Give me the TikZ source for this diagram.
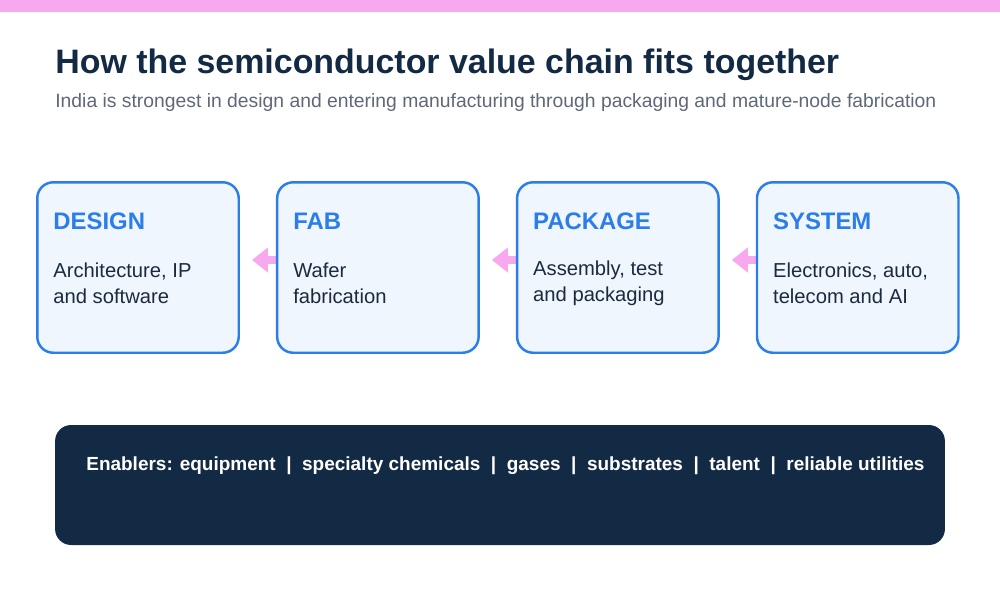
\documentclass[tikz,border=0pt]{standalone}
\usepackage{fontspec}
\setmainfont{Liberation Sans}
\usetikzlibrary{positioning, calc, backgrounds, arrows.meta}

\definecolor{navy}{HTML}{132A44}
\definecolor{subgray}{HTML}{5E6876}
\definecolor{stageblue}{HTML}{2B7DE9}
\definecolor{stagefill}{HTML}{EFF6FD}
\definecolor{bodyink}{HTML}{1B2A3E}
\definecolor{barpink}{HTML}{F8A8EE}

\begin{document}
\begin{tikzpicture}[
    x=0.02cm, y=-0.02cm,
    node distance=0.72cm,
    stage/.style={rectangle, draw=stageblue, line width=1.4pt, fill=stagefill,
        rounded corners=0.32cm, minimum width=4.03cm, minimum height=3.41cm, inner sep=0pt},
    stagehead/.style={anchor=west, inner sep=0pt, text=stageblue,
        font=\fontsize{13.6}{16}\selectfont\bfseries},
    stagebody/.style={anchor=west, inner sep=0pt, align=left, text=bodyink,
        font=\fontsize{11.5}{14.8}\selectfont},
    flow/.style={-{Triangle[length=0.32cm, width=0.48cm]}, line width=0.16cm,
        draw=barpink, shorten >=0.24cm}
]
\useasboundingbox (0,0) rectangle (1000,610);
\fill[barpink] (0,0) rectangle (1000,12);

\node[anchor=west, inner sep=0pt, text=navy, font=\fontsize{19.3}{23}\selectfont\bfseries]
    (title) at (55,65) {How the semiconductor value chain fits together};
\node[anchor=west, inner sep=0pt, text=subgray, font=\fontsize{11}{13}\selectfont]
    (subtitle) at (55,102) {India is strongest in design and entering manufacturing through packaging and mature-node fabrication};

% stages
\node[stage] (design) at (138,267.5) {};
\node[stage, right=of design] (fab) {};
\node[stage, right=of fab] (package) {};
\node[stage, right=of package] (system) {};

\node[stagehead] (designhead) at ($(design.north west)+(17,40)$) {DESIGN};
\node[stagehead] (fabhead) at ($(fab.north west)+(17,40)$) {FAB};
\node[stagehead] (packagehead) at ($(package.north west)+(17,40)$) {PACKAGE};
\node[stagehead] (systemhead) at ($(system.north west)+(17,40)$) {SYSTEM};

\node[stagebody] (designbody) at ($(design.north west)+(17,102)$) {Architecture, IP\\and software};
\node[stagebody] (fabbody) at ($(fab.north west)+(17,102)$) {Wafer\\fabrication};
\node[stagebody] (packagebody) at ($(package.north west)+(17,102)$) {Assembly, test\\and packaging};
\node[stagebody] (systembody) at ($(system.north west)+(17,102)$) {Electronics, auto,\\telecom and AI};

\begin{scope}[on background layer]
    \draw[flow] ([yshift=0.15cm]fab.west) -- ([yshift=0.15cm]design.east);
    \draw[flow] ([yshift=0.15cm]package.west) -- ([yshift=0.15cm]fab.east);
    \draw[flow] ([yshift=0.15cm]system.west) -- ([yshift=0.15cm]package.east);
\end{scope}

% enablers
\node[rectangle, fill=navy, rounded corners=0.32cm, minimum width=17.8cm, minimum height=2.4cm,
    inner sep=0pt] (enablers) at (500,485) {};
\node[anchor=west, inner sep=0pt, text=white, font=\fontsize{10.8}{13}\selectfont\bfseries]
    (enablerstext) at (86,466) {Enablers: equipment\ \ |\ \ specialty chemicals\ \ |\ \ gases\ \ |\ \ substrates\ \ |\ \ talent\ \ |\ \ reliable utilities};
\end{tikzpicture}
\end{document}
